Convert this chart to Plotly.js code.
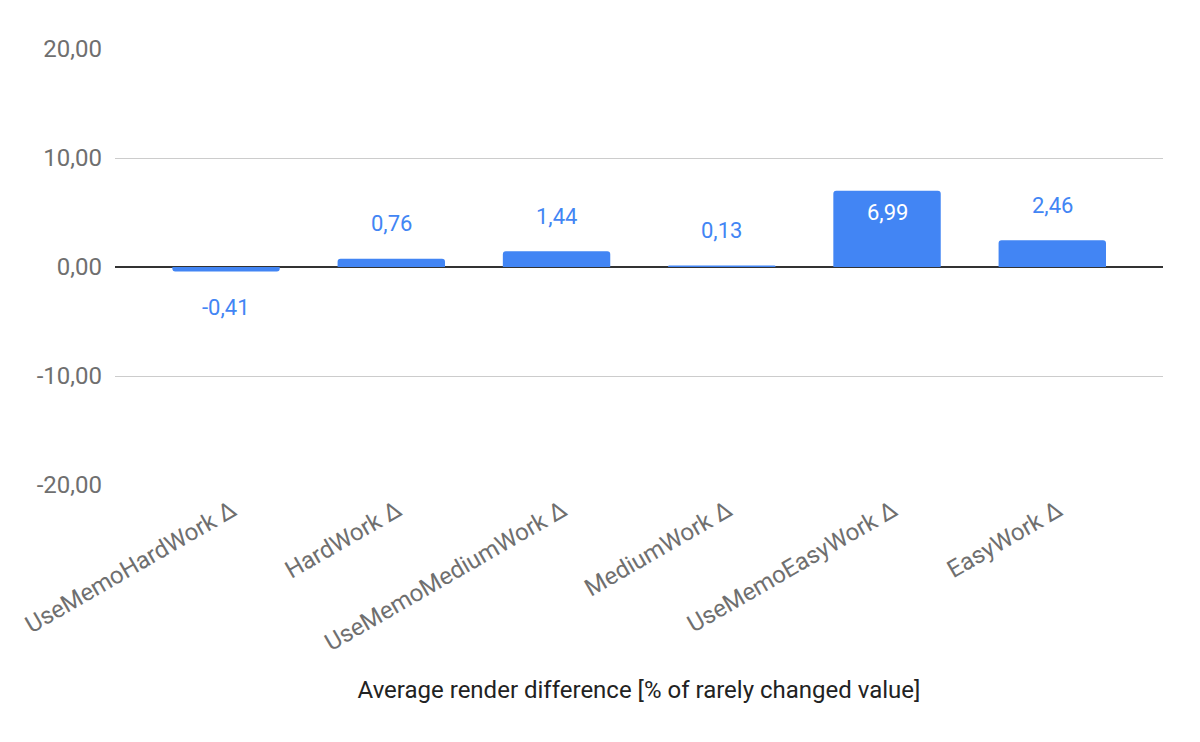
<!DOCTYPE html>
<html>
<head>
<meta charset="utf-8">
<script src="https://cdn.plot.ly/plotly-3.0.1.min.js"></script>
<style>html,body{margin:0;padding:0;background:#fff;}#chart{width:1200px;height:742px;}</style>
</head>
<body>
<div id="chart"></div>
<script>
const categories = ["UseMemoHardWork Δ", "HardWork Δ", "UseMemoMediumWork Δ", "MediumWork Δ", "UseMemoEasyWork Δ", "EasyWork Δ"];
const values = [-0.41, 0.76, 1.44, 0.13, 6.99, 2.46];
const labelInside = [false, false, false, false, true, false];
const yTicks = [-20, -10, 0, 10, 20];

const fmt = v => v.toFixed(2).replace('.', ',');

const trace = {
  type: 'bar',
  x: categories,
  y: values,
  marker: {color: '#4285F4', cornerradius: 3},
  hoverinfo: 'none'
};

const annotations = values.map((v, i) => {
  let shift;
  if (labelInside[i]) shift = -22;
  else shift = v >= 0 ? 35 : -36;
  return {
    x: categories[i], y: v, xref: 'x', yref: 'y',
    text: fmt(v), showarrow: false, yanchor: 'middle', yshift: shift,
    font: {family: 'Roboto', size: 22, color: labelInside[i] ? '#ffffff' : '#4285F4'}
  };
});

const layout = {
  width: 1200, height: 742,
  margin: {l: 115, r: 37, t: 49, b: 257},
  paper_bgcolor: '#fff', plot_bgcolor: '#fff',
  separators: ',.',
  bargap: 0.35,
  showlegend: false,
  font: {family: 'Roboto', size: 24, color: '#6f6f6f'},
  xaxis: {
    type: 'category',
    range: [-0.672, 5.67],
    tickangle: -30,
    tickfont: {family: 'Roboto', size: 24, color: '#6f6f6f'},
    showgrid: false, zeroline: false, showline: false, ticks: '',
    ticklabelstandoff: 6,
    ticklabelshift: 6,
    title: {text: 'Average render difference [% of rarely changed value]', font: {family: 'Roboto', size: 24, color: '#222222'}, standoff: 25},
    automargin: false
  },
  yaxis: {
    range: [-20, 20],
    tickvals: yTicks,
    ticktext: yTicks.map(fmt),
    tickfont: {family: 'Roboto', size: 24, color: '#6f6f6f'},
    showgrid: true, gridcolor: '#cccccc', gridwidth: 1,
    zeroline: true, zerolinecolor: '#333333', zerolinewidth: 2,
    showline: false, ticks: '',
    ticklabelstandoff: 12,
    automargin: false
  },
  annotations: annotations
};

Plotly.newPlot('chart', [trace], layout, {displayModeBar: false, staticPlot: true});
</script>
</body>
</html>
